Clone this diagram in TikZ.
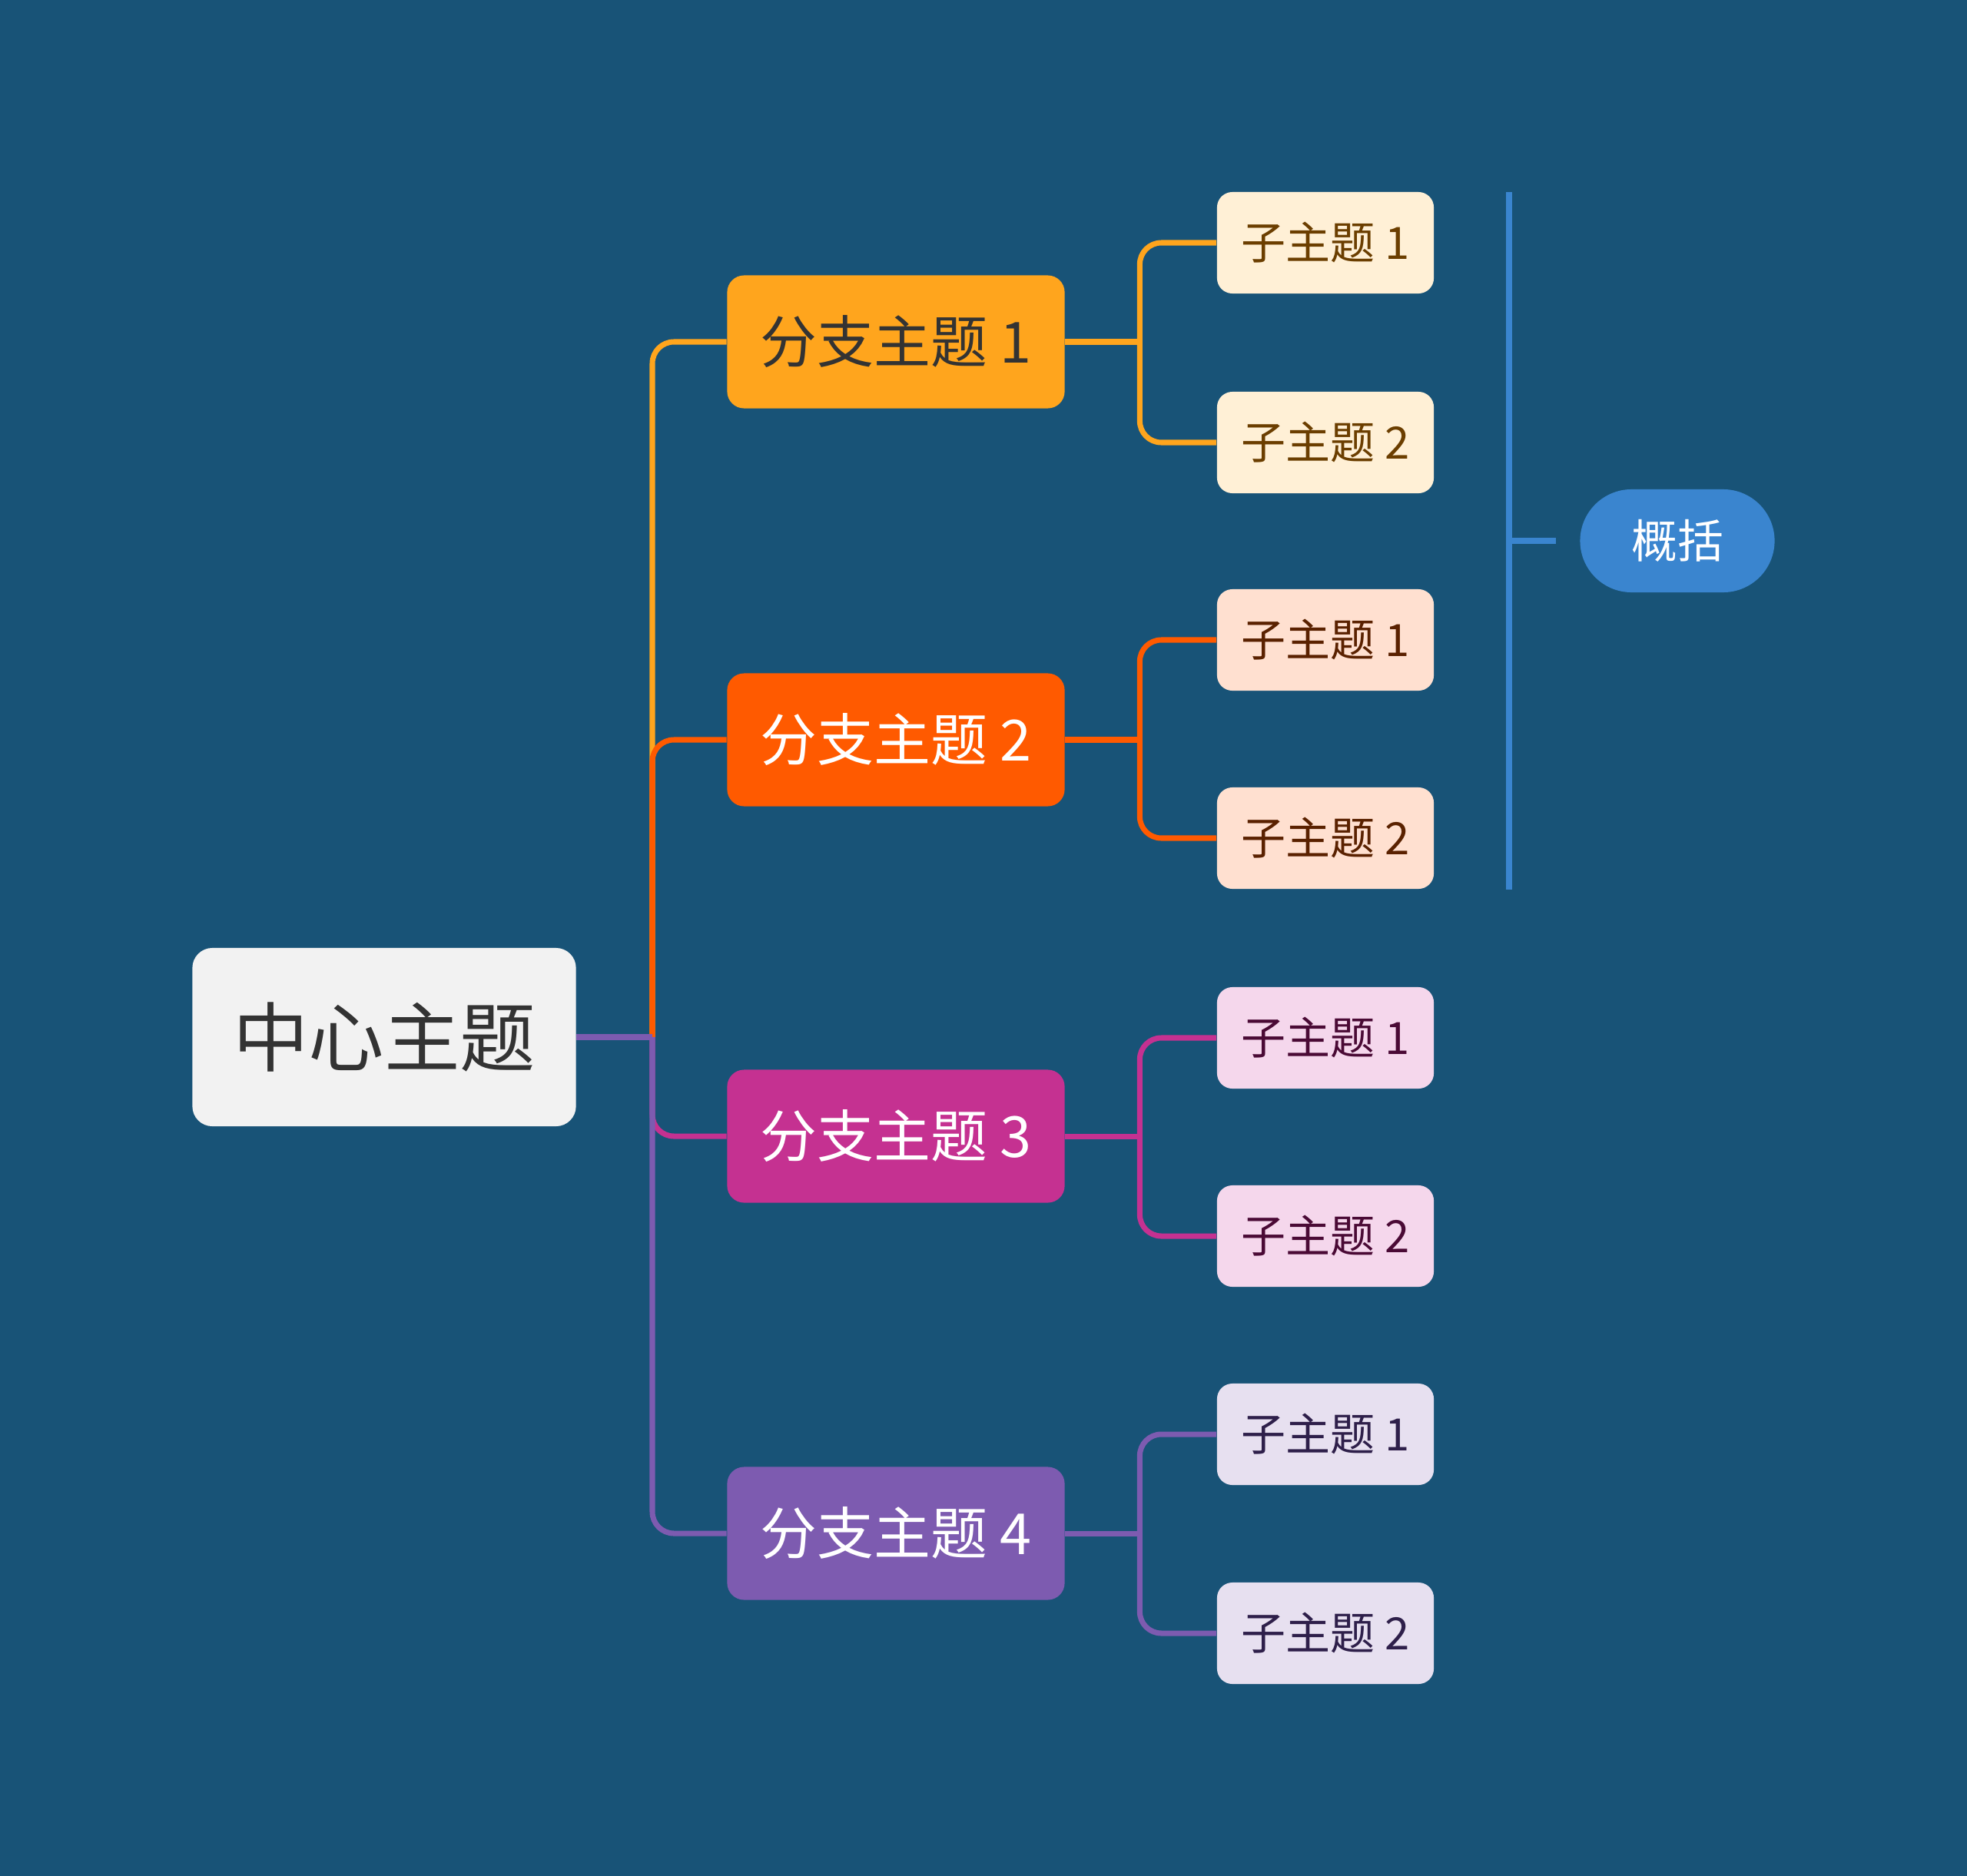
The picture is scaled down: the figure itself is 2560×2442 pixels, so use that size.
\documentclass[tikz,border=0pt]{standalone}
\usepackage{fontspec}
\setmainfont{Noto Sans CJK SC}
\usetikzlibrary{positioning}
\definecolor{bgblue}{HTML}{185377}
\definecolor{centfill}{HTML}{F2F2F2}
\definecolor{centtext}{HTML}{333333}
\definecolor{brA}{HTML}{FFA51D}
\definecolor{brB}{HTML}{FF5A00}
\definecolor{brC}{HTML}{C53191}
\definecolor{brD}{HTML}{7D5BB0}
\definecolor{subA}{HTML}{FFF0D6}
\definecolor{subB}{HTML}{FFE0D0}
\definecolor{subC}{HTML}{F5D7EC}
\definecolor{subD}{HTML}{E7E0F0}
\definecolor{txtA}{HTML}{6B3E00}
\definecolor{txtB}{HTML}{5A2100}
\definecolor{txtC}{HTML}{4A0A35}
\definecolor{txtD}{HTML}{2E1F4A}
\definecolor{sumblue}{HTML}{3A85CF}

\begin{document}
\begin{tikzpicture}[x=0.01cm,y=-0.01cm,
  branchbox/.style={rectangle,rounded corners=0.22cm,minimum width=4.39cm,minimum height=1.73cm,inner sep=0pt,font=\fontsize{21}{25}\selectfont},
  subbox/.style={rectangle,rounded corners=0.2cm,minimum width=2.82cm,minimum height=1.32cm,inner sep=0pt,font=\fontsize{16.5}{20}\selectfont},
  link/.style={line width=2pt,rounded corners=0.28cm}]
% background
\fill[bgblue] (0,0) rectangle (2560,2442);
\useasboundingbox (0,0) rectangle (2560,2442);

% central topic
\node[rectangle,rounded corners=0.26cm,fill=centfill,text=centtext,minimum width=4.99cm,minimum height=2.32cm,inner sep=0pt,font=\fontsize{28}{32}\selectfont] (center) at (500,1350) {中心主题};

% branches
\node[branchbox,fill=brA,text=centtext] (b1) at (1166,445) {分支主题 1};
\node[branchbox,fill=brB,text=white] (b2) at (1166,963) {分支主题 2};
\node[branchbox,fill=brC,text=white] (b3) at (1166,1479) {分支主题 3};
\node[branchbox,fill=brD,text=white] (b4) at (1166,1996) {分支主题 4};

% sub topics
\foreach \n/\y/\f/\t/\k in {1/316/subA/txtA/1,2/576/subA/txtA/2,3/833/subB/txtB/1,4/1091/subB/txtB/2,5/1351/subC/txtC/1,6/1609/subC/txtC/2,7/1867/subD/txtD/1,8/2126/subD/txtD/2} {
    \node[subbox,fill=\f,text=\t] (s\n) at (1725,\y) {子主题 \k};
}

% trunk
\coordinate (hub) at (849,1350);
\foreach \b/\c in {b1/brA,b2/brB,b3/brC,b4/brD} {
    \draw[link,\c] (hub) |- (\b.west);
}
\draw[line width=2pt,brD] (center.east) -- (hub);

% branch to sub topics
\foreach \b/\c/\u/\v in {b1/brA/s1/s2,b2/brB/s3/s4,b3/brC/s5/s6,b4/brD/s7/s8} {
    \coordinate (\b j) at ([xshift=0.97cm]\b.east);
    \draw[line width=2pt,\c] (\b.east) -- (\b j);
    \draw[link,\c] (\b j) |- (\u.west);
    \draw[link,\c] (\b j) |- (\v.west);
}

% summary
\node[rectangle,rounded corners=0.67cm,fill=sumblue,text=white,minimum width=2.53cm,minimum height=1.34cm,inner sep=0pt,font=\fontsize{17}{20}\selectfont] (sum) at (2183,704) {概括};
\coordinate (sumtop) at (1964,250);
\coordinate (sumbot) at (1964,1158);
\coordinate (summid) at (1964,704);
\coordinate (sumtip) at (2025,704);
\draw[sumblue,line width=2.4pt] (sumtop) -- (sumbot);
\draw[sumblue,line width=2.4pt] (summid) -- (sumtip);
\end{tikzpicture}
\end{document}
